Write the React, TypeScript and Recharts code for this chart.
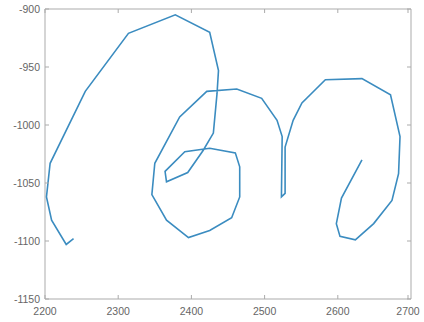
import React from 'react';
import { ScatterChart, Scatter, XAxis, YAxis } from 'recharts';

// path, in drawing order
const xs = [
  2239, 2229, 2209, 2202, 2207, 2255, 2314, 2378, 2425, 2437, 2435, 2430, 2416, 2395, 2366, 2364,
  2391, 2425, 2460, 2466, 2466, 2455, 2425, 2396, 2366, 2346, 2350, 2384, 2421, 2462, 2496, 2517,
  2524, 2523, 2528, 2528, 2539, 2551, 2583, 2633, 2672, 2685, 2683, 2674, 2649, 2624, 2603, 2598,
  2605, 2633,
];
const ys = [
  -1098, -1103, -1082, -1062, -1033, -971, -921, -905, -920, -953, -973, -1007, -1022, -1041, -1049, -1040,
  -1023, -1020, -1024, -1036, -1062, -1080, -1091, -1097, -1082, -1060, -1033, -993, -971, -969, -977, -996,
  -1010, -1062, -1059, -1019, -996, -981, -961, -960, -974, -1010, -1042, -1065, -1085, -1099, -1096, -1085,
  -1063, -1030,
];
const xTicks = [2200, 2300, 2400, 2500, 2600, 2700];
const yTicks = [-1150, -1100, -1050, -1000, -950, -900];

const pts = xs.map((x, i) => ({ x, y: ys[i] }));

const AXIS = '#ababab';
const TEXT = '#666';
const FONT = '"Liberation Sans", Arial, sans-serif';

const BottomTick = (props: any) => {
  const { x, y, payload } = props;
  const y0 = y - 9;
  return (
    <g>
      <line x1={x} y1={y0} x2={x} y2={y0 - 4} stroke={AXIS} />
      <text x={x} y={y} dy="0.71em" textAnchor="middle" fontSize={10.5} fontFamily={FONT} fill={TEXT}>
        {payload.value}
      </text>
    </g>
  );
};

const LeftTick = (props: any) => {
  const { x, y, payload } = props;
  const x0 = x + 5;
  return (
    <g>
      <line x1={x0} y1={y} x2={x0 + 4} y2={y} stroke={AXIS} />
      <text x={x} y={y} dy="0.355em" textAnchor="end" fontSize={10.5} fontFamily={FONT} fill={TEXT}>
        {payload.value}
      </text>
    </g>
  );
};

const TopTick = (props: any) => {
  const { x, y } = props;
  return <line x1={x} y1={y} x2={x} y2={y + 4} stroke={AXIS} />;
};

const RightTick = (props: any) => {
  const { x, y } = props;
  return <line x1={x} y1={y} x2={x - 4} y2={y} stroke={AXIS} />;
};

export default function App() {
  return (
    <div style={{ position: 'absolute', left: 0, top: 0, width: 424, height: 322, background: '#fff' }}>
      <ScatterChart width={424} height={322} margin={{ top: 8, right: 12, bottom: 0, left: 0 }}>
        <XAxis
          xAxisId="b"
          type="number"
          dataKey="x"
          domain={[2200, 2700]}
          ticks={xTicks}
          height={23}
          tickSize={0}
          tickMargin={9}
          axisLine={{ stroke: AXIS }}
          tickLine={false}
          tick={<BottomTick />}
          allowDataOverflow
        />
        <XAxis
          xAxisId="t"
          orientation="top"
          type="number"
          dataKey="x"
          domain={[2200, 2700]}
          ticks={xTicks}
          height={1}
          tickSize={0}
          tickMargin={0}
          axisLine={{ stroke: AXIS }}
          tickLine={false}
          tick={<TopTick />}
          allowDataOverflow
        />
        <YAxis
          yAxisId="l"
          type="number"
          dataKey="y"
          domain={[-1150, -900]}
          ticks={yTicks}
          width={45}
          tickSize={0}
          tickMargin={5}
          axisLine={{ stroke: AXIS }}
          tickLine={false}
          tick={<LeftTick />}
          allowDataOverflow
        />
        <YAxis
          yAxisId="r"
          orientation="right"
          type="number"
          dataKey="y"
          domain={[-1150, -900]}
          ticks={yTicks}
          width={1}
          tickSize={0}
          tickMargin={0}
          axisLine={{ stroke: AXIS }}
          tickLine={false}
          tick={<RightTick />}
          allowDataOverflow
        />
        <Scatter
          xAxisId="t"
          yAxisId="r"
          data={pts}
          shape={() => <g />}
          isAnimationActive={false}
        />
        <Scatter
          xAxisId="b"
          yAxisId="l"
          data={pts}
          line={{ stroke: '#3b8cc0', strokeWidth: 1.6 }}
          lineType="joint"
          shape={() => <g />}
          isAnimationActive={false}
        />
      </ScatterChart>
    </div>
  );
}
